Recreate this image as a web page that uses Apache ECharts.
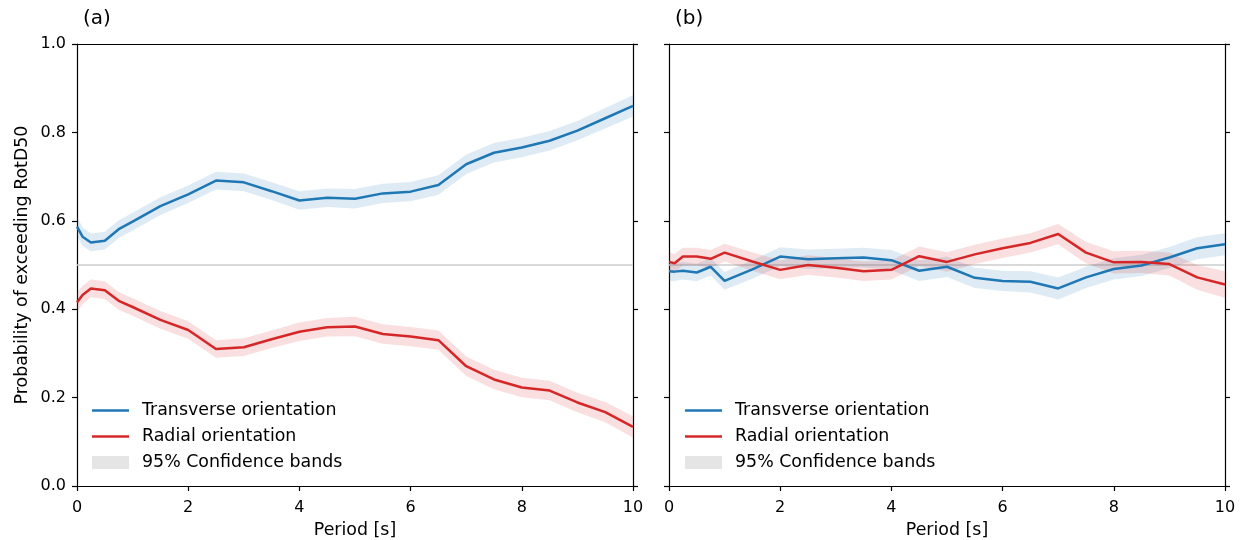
<!DOCTYPE html>
<html>
<head>
<meta charset="utf-8">
<script src="https://cdn.jsdelivr.net/npm/echarts@6/dist/echarts.min.js"></script>
<style>
html,body{margin:0;padding:0;background:#fff;}
#chart{width:1244px;height:540px;}
</style>
</head>
<body>
<div id="chart"></div>
<script>
// Periods [s]
const periods = [0, 0.1, 0.25, 0.5, 0.75, 1, 1.5, 2, 2.5, 3, 3.5, 4, 4.5, 5, 5.5, 6, 6.5, 7, 7.5, 8, 8.5, 9, 9.5, 10];

// Panel (a)
const aTransverse = [0.587, 0.564, 0.551, 0.555, 0.581, 0.598, 0.633, 0.660, 0.691, 0.687, 0.667, 0.646, 0.652, 0.650, 0.662, 0.666, 0.681, 0.728, 0.754, 0.766, 0.781, 0.804, 0.832, 0.860];
const aTransverseHalf = [0.022, 0.021, 0.020, 0.020, 0.020, 0.020, 0.020, 0.020, 0.020, 0.020, 0.020, 0.021, 0.021, 0.022, 0.022, 0.022, 0.022, 0.022, 0.022, 0.022, 0.022, 0.022, 0.023, 0.024];
const aRadial = [0.415, 0.432, 0.447, 0.443, 0.419, 0.405, 0.376, 0.353, 0.310, 0.314, 0.332, 0.349, 0.359, 0.361, 0.344, 0.338, 0.330, 0.271, 0.241, 0.223, 0.216, 0.189, 0.167, 0.134];
const aRadialHalf = [0.022, 0.021, 0.020, 0.020, 0.020, 0.020, 0.020, 0.020, 0.020, 0.020, 0.020, 0.021, 0.021, 0.022, 0.022, 0.022, 0.022, 0.022, 0.022, 0.022, 0.022, 0.022, 0.023, 0.024];

// Panel (b)
const bTransverse = [0.486, 0.485, 0.487, 0.483, 0.496, 0.464, 0.490, 0.519, 0.513, 0.515, 0.517, 0.511, 0.487, 0.496, 0.471, 0.464, 0.462, 0.447, 0.472, 0.491, 0.499, 0.517, 0.538, 0.547];
const bTransverseHalf = [0.022, 0.021, 0.020, 0.020, 0.020, 0.020, 0.021, 0.021, 0.022, 0.022, 0.022, 0.023, 0.023, 0.023, 0.023, 0.023, 0.024, 0.025, 0.024, 0.024, 0.024, 0.024, 0.025, 0.025];
const bRadial = [0.507, 0.504, 0.519, 0.519, 0.514, 0.528, 0.508, 0.489, 0.500, 0.494, 0.486, 0.489, 0.520, 0.507, 0.524, 0.538, 0.550, 0.570, 0.528, 0.506, 0.507, 0.502, 0.472, 0.456];
const bRadialHalf = [0.022, 0.021, 0.020, 0.020, 0.020, 0.020, 0.021, 0.021, 0.022, 0.022, 0.022, 0.022, 0.022, 0.022, 0.022, 0.022, 0.022, 0.023, 0.024, 0.025, 0.025, 0.026, 0.028, 0.030];

const xTicks = [0, 2, 4, 6, 8, 10];
const yTicks = [0.0, 0.2, 0.4, 0.6, 0.8, 1.0];
const panelLabels = ['(a)', '(b)'];
const seriesNames = ['Transverse orientation', 'Radial orientation', '95% Confidence bands'];
const refLevel = 0.5;

const BLUE = '#1f77b4', RED = '#d62728';
const FONT = 'DejaVu Sans';

const chart = echarts.init(document.getElementById('chart'), null, {renderer: 'canvas'});

const gridLefts = [77, 669];
const grids = gridLefts.map(l => ({left: l, top: 44, width: 556, height: 442, containLabel: false, outerBoundsMode: 'none'}));

const xAxes = [], yAxes = [];
grids.forEach((g, gi) => {
  xAxes.push({
    type: 'value', gridIndex: gi, min: xTicks[0], max: xTicks[xTicks.length - 1], interval: xTicks[1] - xTicks[0], position: 'bottom',
    name: 'Period [s]', nameLocation: 'middle', nameGap: 36,
    nameTextStyle: {fontFamily: FONT, fontSize: 17.4, color: '#000'},
    axisLine: {show: true, onZero: false, lineStyle: {color: '#000', width: 1.2}},
    axisTick: {show: true, inside: false, length: 5, lineStyle: {color: '#000', width: 1.2}},
    axisLabel: {show: true, margin: 14, fontFamily: FONT, fontSize: 16, color: '#000'},
    splitLine: {show: false}
  });
  xAxes.push({
    type: 'value', gridIndex: gi, min: 0, max: 10, interval: 2, position: 'top',
    axisLine: {show: true, onZero: false, lineStyle: {color: '#000', width: 1.2}},
    axisTick: {show: false}, axisLabel: {show: false}, splitLine: {show: false}
  });
  yAxes.push({
    type: 'value', gridIndex: gi, min: yTicks[0], max: yTicks[yTicks.length - 1], interval: 0.2, position: 'left',
    name: gi === 0 ? 'Probability of exceeding RotD50' : '', nameLocation: 'middle', nameGap: 46,
    nameTextStyle: {fontFamily: FONT, fontSize: 17.4, color: '#000'},
    axisLine: {show: true, onZero: false, lineStyle: {color: '#000', width: 1.2}},
    axisTick: {show: true, inside: false, length: 5, lineStyle: {color: '#000', width: 1.2}},
    axisLabel: {show: gi === 0, margin: 11, fontFamily: FONT, fontSize: 16, color: '#000',
      formatter: v => v.toFixed(1)},
    splitLine: {show: false}
  });
  yAxes.push({
    type: 'value', gridIndex: gi, min: 0, max: 1, interval: 0.2, position: 'right',
    axisLine: {show: true, onZero: false, lineStyle: {color: '#000', width: 1.2}},
    axisTick: {show: true, inside: false, length: 5, lineStyle: {color: '#000', width: 1.2}},
    axisLabel: {show: false}, splitLine: {show: false}
  });
});

function pairs(arr) { return periods.map((p, i) => [p, arr[i]]); }

const series = [];
function addPanel(gi, trans, transHalf, rad, radHalf) {
  const xi = gi * 2, yi = gi * 2;
  const specs = [
    {vals: trans, half: transHalf, color: BLUE, fill: 'rgba(31,119,180,0.15)', name: seriesNames[0]},
    {vals: rad, half: radHalf, color: RED, fill: 'rgba(214,39,40,0.15)', name: seriesNames[1]}
  ];
  specs.forEach(s => {
    const lo = s.vals.map((v, i) => v - s.half[i]);
    const hi = s.vals.map((v, i) => v + s.half[i]);
    series.push({
      type: 'custom', coordinateSystem: 'cartesian2d', xAxisIndex: xi, yAxisIndex: yi,
      silent: true, z: 2,
      data: periods.map((p, i) => [p, lo[i], hi[i]]),
      encode: {x: 0, y: [1, 2]},
      renderItem: (params, api) => {
        if (params.dataIndex !== 0) return null;
        const up = periods.map((p, i) => api.coord([p, hi[i]]));
        const dn = periods.map((p, i) => api.coord([p, lo[i]])).reverse();
        return {type: 'polygon', shape: {points: up.concat(dn)}, style: {fill: s.fill, stroke: null}};
      }
    });
  });
  specs.forEach((s, si) => {
    const ser = {
      type: 'line', name: s.name, xAxisIndex: xi, yAxisIndex: yi,
      data: pairs(s.vals), symbol: 'none', z: 4,
      lineStyle: {color: s.color, width: 2.5}, itemStyle: {color: s.color}
    };
    if (si === 0) {
      ser.markLine = {
        silent: true, symbol: 'none', z: 1, animation: false,
        label: {show: false},
        lineStyle: {color: '#cccccc', width: 1.5, type: 'solid'},
        data: [{yAxis: refLevel}]
      };
    }
    series.push(ser);
  });
  series.push({
    type: 'bar', name: seriesNames[2], xAxisIndex: xi, yAxisIndex: yi, data: [],
    itemStyle: {color: '#e5e5e5'}
  });
}
addPanel(0, aTransverse, aTransverseHalf, aRadial, aRadialHalf);
addPanel(1, bTransverse, bTransverseHalf, bRadial, bRadialHalf);

function legendAt(left) {
  return {
    orient: 'vertical', left: left, top: 397, padding: 5, itemWidth: 37, itemHeight: 13, itemGap: 9,
    selectedMode: false,
    textStyle: {fontFamily: FONT, fontSize: 17.4, color: '#000', padding: [0, 0, 0, 8]},
    data: [
      {name: seriesNames[0], icon: 'path://M0,5.25 L37,5.25 L37,7.75 L0,7.75 Z', itemStyle: {color: BLUE}},
      {name: seriesNames[1], icon: 'path://M0,5.25 L37,5.25 L37,7.75 L0,7.75 Z', itemStyle: {color: RED}},
      {name: seriesNames[2], icon: 'rect', itemStyle: {color: '#e5e5e5'}}
    ]
  };
}

const option = {
  animation: false,
  backgroundColor: '#fff',
  textStyle: {fontFamily: FONT},
  title: [
    {text: panelLabels[0], left: 83, top: 9, padding: 0, textStyle: {fontFamily: FONT, fontSize: 20, fontWeight: 'normal', color: '#000'}},
    {text: panelLabels[1], left: 675, top: 9, padding: 0, textStyle: {fontFamily: FONT, fontSize: 20, fontWeight: 'normal', color: '#000'}}
  ],
  grid: grids,
  xAxis: xAxes,
  yAxis: yAxes,
  legend: [legendAt(87), legendAt(680)],
  series: series
};
chart.setOption(option);
</script>
</body>
</html>
